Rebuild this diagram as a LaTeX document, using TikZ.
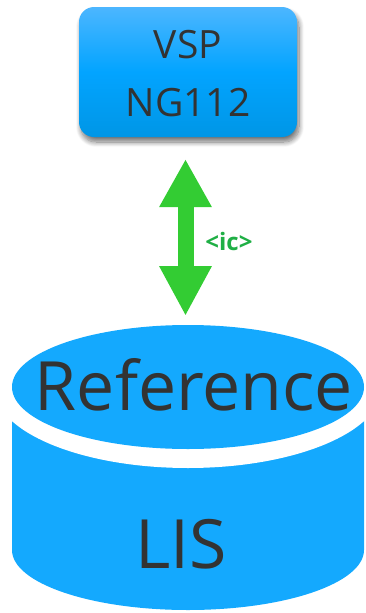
\documentclass[tikz,border=0pt]{standalone}
\usepackage{fontspec}
\setmainfont{Open Sans}
\usetikzlibrary{arrows.meta,shadows.blur,calc}
\definecolor{dbblue}{HTML}{14A9FE}
\definecolor{boxtop}{HTML}{4CB6FF}
\definecolor{boxmid}{HTML}{02A4FF}
\definecolor{boxbot}{HTML}{0096E6}
\definecolor{txtgray}{HTML}{333333}
\definecolor{arrgreen}{HTML}{33CC33}
\definecolor{lblgreen}{HTML}{1FAF45}
\tikzset{
  vspbox/.style={rounded corners=15pt, minimum width=218pt, minimum height=130pt,
    top color=boxtop, bottom color=boxbot, middle color=boxmid, draw=none,
    blur shadow={shadow xshift=2pt, shadow yshift=-5pt, shadow blur steps=10, shadow blur radius=5pt, shadow opacity=55}},
  boxtext/.style={font=\fontsize{39}{46}\selectfont, text=txtgray, anchor=base, inner sep=0pt},
  dbtext/.style={font=\fontsize{68}{80}\selectfont, text=txtgray, anchor=base, inner sep=0pt},
  icarrow/.style={arrgreen, line width=16pt,
    {Triangle[length=48pt,width=49pt]}-{Triangle[length=50pt,width=49pt]}},
  iclabel/.style={font=\fontsize{24}{28}\selectfont\bfseries, text=lblgreen, inner sep=0pt}
}
\begin{document}
\begin{tikzpicture}[x=1pt,y=-1pt]
\useasboundingbox (0,0) rectangle (365,613);
% VSP box
\node[vspbox] (vsp) at (188,72) {};
\node[boxtext] (vspt) at (188,58) {VSP};
\node[boxtext] (ngt) at (188,116) {NG112};
% cylinder
\fill[dbblue] (12,387) -- (12,550) arc[start angle=180, end angle=0, x radius=176, y radius=60] -- (364,387) -- cycle;
\fill[white] (188,387) ellipse [x radius=194, y radius=81];
\fill[dbblue] (188,387) ellipse [x radius=176, y radius=62];
\coordinate (dbtop) at (185.5,325);
\node[dbtext] (ref) at (194,410) {Reference};
\node[dbtext] (lis) at (181,568) {LIS};
% arrow
\coordinate (vspbot) at (185.5,137);
\draw[icarrow, shorten <=22pt, shorten >=9pt] (vspbot) -- (dbtop);
\node[iclabel] (ic) at (229,241) {<ic>};
\end{tikzpicture}
\end{document}
